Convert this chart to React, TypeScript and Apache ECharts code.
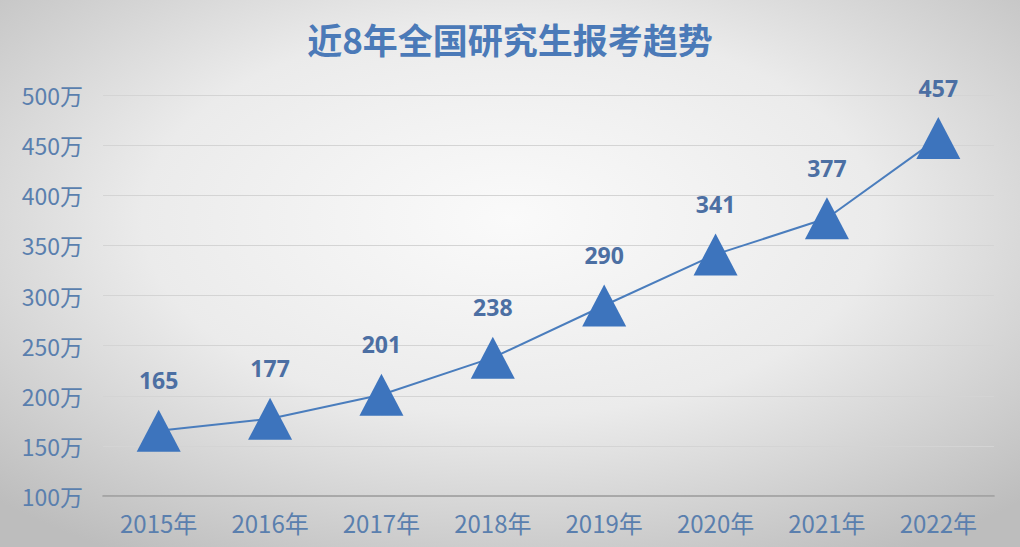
import React, { useEffect, useRef } from 'react';
import * as echarts from 'echarts';

const years = ['2015年', '2016年', '2017年', '2018年', '2019年', '2020年', '2021年', '2022年'];
const applicants = [165, 177, 201, 238, 290, 341, 377, 457];

const App: React.FC = () => {
    const chartRef = useRef<HTMLDivElement>(null);

    useEffect(() => {
        if (!chartRef.current) return;
        const chart = echarts.init(chartRef.current, undefined, { renderer: 'svg' });

        const option = {
            animation: false,
            backgroundColor: {
                type: 'radial',
                x: 0.5,
                y: 0.4,
                r: 0.72,
                colorStops: [
                    { offset: 0, color: '#fafafa' },
                    { offset: 0.5, color: '#ebebeb' },
                    { offset: 1, color: '#bdbdbd' }
                ]
            },
            title: {
                text: '近8年全国研究生报考趋势',
                left: 'center',
                top: 16,
                textStyle: {
                    color: '#4b7ab8',
                    fontSize: 35,
                    fontWeight: 'bold',
                    fontFamily: 'Noto Sans CJK SC'
                }
            },
            grid: {
                left: 103,
                right: 26,
                top: 95,
                bottom: 51
            },
            xAxis: {
                type: 'category',
                data: years,
                axisLine: { lineStyle: { color: '#9a9a9a', width: 1.5 } },
                axisTick: { show: false },
                axisLabel: {
                    color: '#5a7fae',
                    fontSize: 24,
                    margin: 14,
                    fontFamily: 'Noto Sans CJK SC'
                }
            },
            yAxis: {
                type: 'value',
                min: 100,
                max: 500,
                interval: 50,
                axisLine: { show: false },
                axisTick: { show: false },
                axisLabel: {
                    formatter: '{value}万',
                    color: '#5a7fae',
                    fontSize: 23,
                    margin: 20,
                    fontFamily: 'Noto Sans CJK SC'
                },
                splitLine: {
                    lineStyle: { color: '#d4d4d4', width: 1 }
                }
            },
            series: [{
                type: 'line',
                data: applicants,
                symbol: 'triangle',
                symbolSize: [44, 42],
                itemStyle: { color: '#3d74bd' },
                lineStyle: { color: '#4a7dbd', width: 2 },
                label: {
                    show: true,
                    position: 'top',
                    distance: 18,
                    color: '#4c6fa3',
                    fontSize: 23,
                    fontWeight: 'bold',
                    fontFamily: 'Noto Sans'
                }
            }]
        };

        chart.setOption(option);

        return () => {
            chart.dispose();
        };
    }, []);

    return (
        <div
            ref={chartRef}
            style={{
                position: 'absolute',
                left: 0,
                top: 0,
                width: '1020px',
                height: '547px'
            }}
        />
    );
};

export default App;
